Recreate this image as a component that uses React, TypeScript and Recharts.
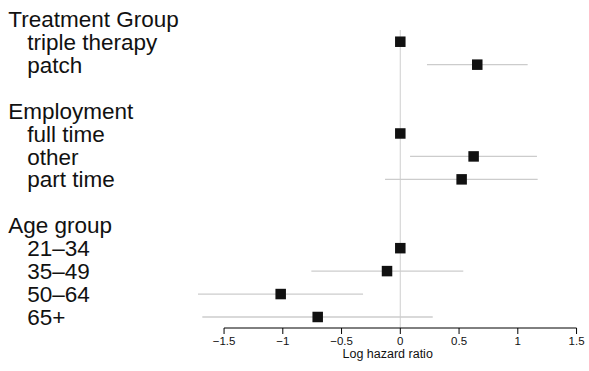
import {
  ScatterChart,
  Scatter,
  XAxis,
  YAxis,
  ErrorBar,
  ReferenceLine,
} from 'recharts';

const groups = ['Treatment Group', 'Employment', 'Age group'];
const groupLevels = [
  ['triple therapy', 'patch'],
  ['full time', 'other', 'part time'],
  ['21–34', '35–49', '50–64', '65+'],
];
// log hazard ratios, reference levels at 0 with no interval
const estimates = [0, 0.655, 0, 0.624, 0.522, 0, -0.113, -1.018, -0.703];
const lower = [null, 0.227, null, 0.083, -0.13, null, -0.757, -1.722, -1.685];
const upper = [null, 1.084, null, 1.163, 1.169, null, 0.536, -0.317, 0.276];
const xTicks = [-1.5, -1, -0.5, 0, 0.5, 1, 1.5];

const FONT = '"Liberation Sans", Arial, Helvetica, sans-serif';

// one row per header and level, blank row between groups
const rowLabels: { text: string; header: boolean }[] = [];
groups.forEach((g, gi) => {
  if (gi > 0) rowLabels.push({ text: '', header: false });
  rowLabels.push({ text: g, header: true });
  groupLevels[gi].forEach((l) => rowLabels.push({ text: l, header: false }));
});
const nRows = rowLabels.length;

const data: { x: number; y: number; err?: number[] }[] = [];
{
  let k = 0;
  rowLabels.forEach((r, i) => {
    if (r.header || r.text === '') return;
    const lo = lower[k];
    const hi = upper[k];
    data.push({
      x: estimates[k],
      y: i,
      err: lo == null || hi == null ? undefined : [estimates[k] - lo, hi - estimates[k]],
    });
    k++;
  });
}

const fmt = (v: number) => (v < 0 ? '\u2212' + Math.abs(v) : String(v));

const RowTick = (props: any) => {
  const row = rowLabels[props.payload.value];
  if (!row || !row.text) return null;
  return (
    <text
      x={row.header ? 8.3 : 27.3}
      y={props.y}
      dy="0.36em"
      fontSize={22.5}
      fontFamily={FONT}
      fill="#111"
      textAnchor="start"
    >
      {row.text}
    </text>
  );
};

const Square = (props: any) => (
  <rect x={props.cx - 5.25} y={props.cy - 5.25} width={10.5} height={10.5} fill="#111" />
);

const yBottom = nRows - 0.52;

export default function App() {
  return (
    <div style={{ position: 'absolute', left: 0, top: 0, fontFamily: FONT }}>
      <ScatterChart
        width={589}
        height={371}
        margin={{ top: 8, right: 12.45, left: 8.8, bottom: 0 }}
      >
        <XAxis
          type="number"
          dataKey="x"
          domain={[-1.8, 1.5]}
          ticks={xTicks}
          interval={0}
          allowDataOverflow
          axisLine={false}
          tickLine={{ stroke: '#000' }}
          tickSize={6}
          tickMargin={3}
          tickFormatter={fmt}
          tick={{ fill: '#111', fontSize: 11.5, fontFamily: FONT }}
          height={43}
          label={{
            value: 'Log hazard ratio',
            position: 'insideBottom',
            offset: 13,
            dx: 5,
            fontSize: 12.5,
            fill: '#111',
            fontFamily: FONT,
          }}
        />
        <YAxis
          type="number"
          dataKey="y"
          domain={[-0.47, yBottom]}
          reversed
          allowDataOverflow
          ticks={rowLabels.map((_, i) => i)}
          interval={0}
          axisLine={false}
          tickLine={false}
          width={180}
          tick={<RowTick />}
        />
        <ReferenceLine
          segment={[
            { x: 0, y: 0.49 },
            { x: 0, y: yBottom },
          ]}
          stroke="#d6d6d6"
          strokeWidth={1.2}
        />
        <ReferenceLine
          segment={[
            { x: -1.5, y: yBottom },
            { x: 1.5, y: yBottom },
          ]}
          stroke="#000"
          strokeWidth={1}
        />
        <Scatter data={data} shape={<Square />} isAnimationActive={false}>
          <ErrorBar
            dataKey="err"
            direction="x"
            width={0}
            stroke="#cccccc"
            strokeWidth={1.3}
            isAnimationActive={false}
          />
        </Scatter>
      </ScatterChart>
    </div>
  );
}
